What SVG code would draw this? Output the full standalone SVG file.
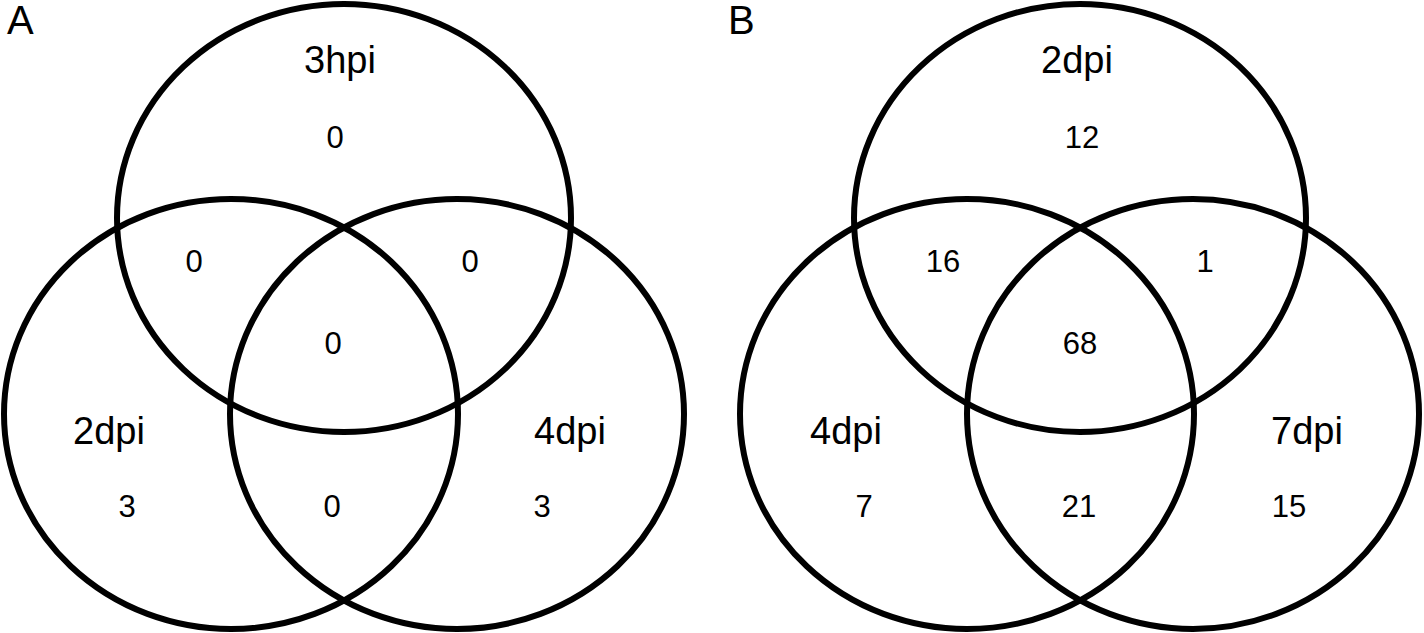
<svg xmlns="http://www.w3.org/2000/svg" width="1424" height="633" viewBox="0 0 1424 633">
<style>
.e{fill:none;stroke:#000;stroke-width:6}
.lbl{font-family:"Liberation Sans",Arial,sans-serif;font-size:38px;fill:#000;text-anchor:middle}
.num{font-family:"Liberation Sans",Arial,sans-serif;font-size:31px;fill:#000;text-anchor:middle}
.pan{font-family:"Liberation Sans",Arial,sans-serif;font-size:40px;fill:#000}
</style>
<rect width="1424" height="633" fill="#fff"/>
<g id="panelA">
<text class="pan" x="7" y="34">A</text>
<g id="A-3hpi"><ellipse class="e" cx="344" cy="218" rx="227" ry="214"/><text class="lbl" x="340" y="73">3hpi</text></g>
<g id="A-2dpi"><ellipse class="e" cx="231" cy="414" rx="227" ry="215"/><text class="lbl" x="109" y="444">2dpi</text></g>
<g id="A-4dpi"><ellipse class="e" cx="457" cy="414" rx="227" ry="215"/><text class="lbl" x="570" y="444">4dpi</text></g>
<g id="A-counts">
<text class="num" x="335" y="148">0</text>
<text class="num" x="194" y="272">0</text>
<text class="num" x="470" y="272">0</text>
<text class="num" x="333" y="354">0</text>
<text class="num" x="127" y="517">3</text>
<text class="num" x="332" y="517">0</text>
<text class="num" x="542" y="517">3</text>
</g>
</g>
<g id="panelB">
<text class="pan" x="728" y="34">B</text>
<g id="B-2dpi"><ellipse class="e" cx="1080" cy="218" rx="226" ry="214"/><text class="lbl" x="1077" y="73">2dpi</text></g>
<g id="B-4dpi"><ellipse class="e" cx="967" cy="414" rx="227" ry="215"/><text class="lbl" x="846" y="444">4dpi</text></g>
<g id="B-7dpi"><ellipse class="e" cx="1193" cy="414" rx="226" ry="215"/><text class="lbl" x="1307" y="444">7dpi</text></g>
<g id="B-counts">
<text class="num" x="1082" y="148">12</text>
<text class="num" x="943" y="272">16</text>
<text class="num" x="1205" y="272">1</text>
<text class="num" x="1080" y="354">68</text>
<text class="num" x="864" y="517">7</text>
<text class="num" x="1079" y="517">21</text>
<text class="num" x="1289" y="517">15</text>
</g>
</g>
<g id="connectors"/>
</svg>
